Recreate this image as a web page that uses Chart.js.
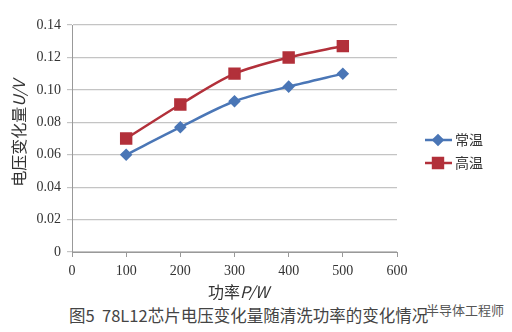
<!DOCTYPE html>
<html lang="zh">
<head>
    <meta charset="UTF-8">
    <title>78L12 电压变化量</title>
    <script src="https://cdn.jsdelivr.net/npm/chart.js"></script>
    <style>
        body {
            margin: 0;
            background: #fff;
            width: 512px;
            height: 332px;
            position: relative;
            overflow: hidden;
        }
        #wrap {
            position: absolute;
            left: 0;
            top: 0;
            width: 512px;
            height: 300px;
        }
        #caption {
            position: absolute;
            left: 69px;
            top: 305px;
            font-family: "Noto Sans CJK SC", sans-serif;
            font-size: 16.5px;
            line-height: 20px;
            color: #444;
            white-space: nowrap;
        }
        #mark {
            position: absolute;
            left: 426px;
            top: 302px;
            font-family: "Noto Sans CJK SC", sans-serif;
            font-size: 13px;
            line-height: 16px;
            color: #555;
        }
    </style>
</head>
<body>
    <div id="wrap"><canvas id="chart"></canvas></div>
    <div id="caption">图5&nbsp; 78L12芯片电压变化量随清洗功率的变化情况</div>
    <div id="mark">半导体工程师</div>

    <script>
        const powerW = [100, 200, 300, 400, 500];
        const normalTemp = [0.060, 0.077, 0.093, 0.102, 0.110];
        const highTemp = [0.070, 0.091, 0.110, 0.120, 0.127];
        const seriesNames = ['常温', '高温'];

        const cjk = '"Noto Sans CJK SC", sans-serif';
        const tickFont = { family: '"Liberation Serif", serif', size: 14 };

        // draw "regular + italic" text pieces one after the other
        function drawMixed(ctx, parts, x, y) {
            let total = 0;
            parts.forEach(p => {
                ctx.font = (p.italic ? 'italic ' : '') + '16px ' + cjk;
                total += ctx.measureText(p.text).width;
            });
            let cx = x - total / 2;
            parts.forEach(p => {
                ctx.font = (p.italic ? 'italic ' : '') + '16px ' + cjk;
                ctx.fillText(p.text, cx, y);
                cx += ctx.measureText(p.text).width;
            });
        }

        const axisTitles = {
            id: 'axisTitles',
            afterDraw(chart) {
                const ctx = chart.ctx;
                const a = chart.chartArea;
                ctx.save();
                ctx.fillStyle = '#333';
                ctx.textBaseline = 'middle';
                ctx.textAlign = 'left';
                drawMixed(ctx, [{ text: '功率' }, { text: 'P/W', italic: true }], (a.left + a.right) / 2 + 4, 292);
                ctx.translate(19, (a.top + a.bottom) / 2 - 5);
                ctx.rotate(-Math.PI / 2);
                drawMixed(ctx, [{ text: '电压变化量' }, { text: 'U/V', italic: true }], 0, 0);
                ctx.restore();
            }
        };

        // legend drawn by hand: line with marker, like the spreadsheet one
        const sideLegend = {
            id: 'sideLegend',
            afterDraw(chart) {
                const ctx = chart.ctx;
                chart.data.datasets.forEach((ds, i) => {
                    const y = 140 + i * 23;
                    ctx.save();
                    ctx.strokeStyle = ds.borderColor;
                    ctx.lineWidth = 2.5;
                    ctx.beginPath();
                    ctx.moveTo(425, y);
                    ctx.lineTo(452, y);
                    ctx.stroke();
                    Chart.helpers.drawPoint(ctx, {
                        pointStyle: ds.pointStyle,
                        radius: ds.pointRadius,
                        borderWidth: 1
                    }, 438, y);
                    ctx.fillStyle = ds.borderColor;
                    ctx.fill();
                    ctx.fillStyle = '#333';
                    ctx.font = '14px ' + cjk;
                    ctx.textBaseline = 'middle';
                    ctx.fillText(ds.label, 455, y);
                    ctx.restore();
                });
            }
        };

        new Chart(document.getElementById('chart'), {
            type: 'line',
            data: {
                datasets: [{
                    label: seriesNames[0],
                    data: powerW.map((x, i) => ({ x: x, y: normalTemp[i] })),
                    borderColor: '#4a76b6',
                    backgroundColor: '#4a76b6',
                    borderWidth: 2.5,
                    pointStyle: 'rectRot',
                    pointRadius: 4.5,
                    tension: 0.3
                }, {
                    label: seriesNames[1],
                    data: powerW.map((x, i) => ({ x: x, y: highTemp[i] })),
                    borderColor: '#b2303a',
                    backgroundColor: '#b2303a',
                    borderWidth: 2.5,
                    pointStyle: 'rect',
                    pointRadius: 7,
                    tension: 0.3
                }]
            },
            options: {
                responsive: true,
                maintainAspectRatio: false,
                animation: false,
                layout: { padding: { top: 25, right: 115, left: 0, bottom: 0 } },
                plugins: {
                    legend: { display: false },
                    tooltip: { enabled: false }
                },
                scales: {
                    x: {
                        type: 'linear',
                        min: 0,
                        max: 600,
                        ticks: { stepSize: 100, padding: 6, font: tickFont, color: '#333' },
                        grid: { drawOnChartArea: false, drawTicks: true, tickLength: 5, color: '#999' },
                        border: { color: '#999' },
                        afterFit(scale) { scale.height = 48; }
                    },
                    y: {
                        min: 0,
                        max: 0.14,
                        ticks: {
                            stepSize: 0.02,
                            padding: 6,
                            font: tickFont,
                            color: '#333',
                            callback: v => v === 0 ? '0' : v.toFixed(2)
                        },
                        grid: { color: '#c4c4c4', tickLength: 5, lineWidth: 1.2 },
                        border: { color: '#999' },
                        afterFit(scale) { scale.width = 72; }
                    }
                }
            },
            plugins: [sideLegend, axisTitles]
        });
    </script>
</body>
</html>
